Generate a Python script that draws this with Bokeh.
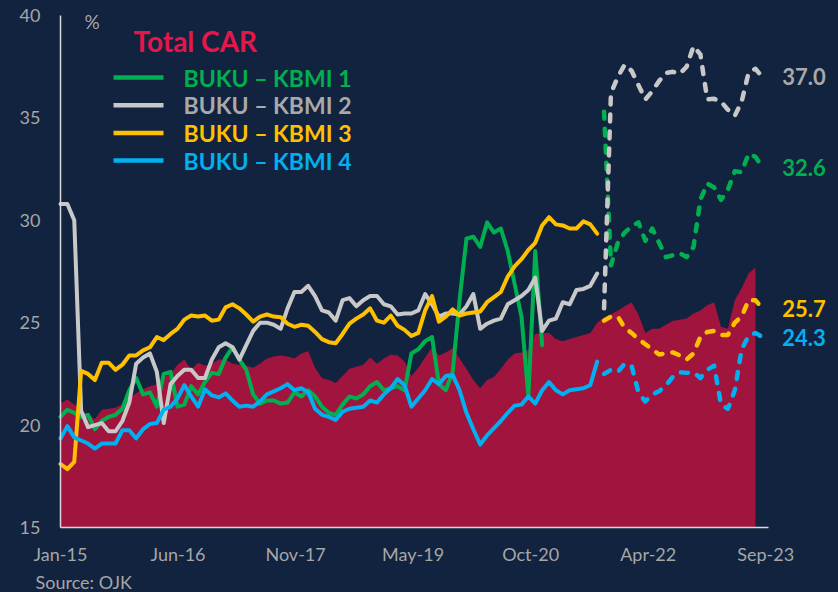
from bokeh.plotting import figure
from bokeh.models import FixedTicker, Label, CustomJSTickFormatter
from bokeh.embed import file_html
from bokeh.resources import INLINE

# ---------------- data ----------------
x_tick_labels = ["Jan-15", "Jun-16", "Nov-17", "May-19", "Oct-20", "Apr-22", "Sep-23"]
y_ticks = [15, 20, 25, 30, 35, 40]

total_car = [21.05, 21.25, 21.0, 20.8, 20.45, 20.3, 20.75, 20.8, 20.85, 21.0,
             21.3, 21.55, 21.75, 21.9, 22.0, 22.35, 22.5, 22.95, 23.2, 22.7,
             23.05, 22.9, 23.0, 23.2, 23.2, 23.0, 22.95, 22.9, 22.8, 23.0,
             23.25, 23.35, 23.4, 23.35, 23.25, 23.5, 23.6, 22.8, 22.3, 22.2,
             22.05, 22.4, 22.75, 22.85, 22.95, 23.3, 23.0, 23.25, 23.45, 23.4,
             23.1, 22.4, 22.8, 23.3, 23.8, 23.4, 23.55, 23.75, 23.25, 22.75,
             22.2, 21.8, 22.2, 22.35, 22.75, 23.2, 23.5, 23.55, 23.65, 24.45,
             24.5, 24.5, 24.2, 24.1, 24.2, 24.3, 24.4, 24.5, 25.0, 25.25,
             25.4, 25.6, 25.8, 26.0, 25.4, 24.5, 24.7, 24.7, 24.9, 25.1,
             25.15, 25.2, 25.45, 25.6, 25.85, 26.0, 24.8, 24.7, 26.1, 26.7,
             27.4, 27.7]

kbmi1_buku = [20.4, 20.75, 20.6, 20.4, 20.5, 19.8, 20.2, 20.4, 20.5, 20.8,
              21.7, 22.3, 21.5, 21.6, 20.9, 22.5, 22.6, 20.9, 21.0, 21.9,
              21.5, 22.1, 22.55, 22.5, 23.3, 23.8, 23.2, 22.7, 21.5, 21.05,
              21.2, 21.2, 21.05, 21.1, 21.6, 21.4, 21.7, 21.4, 20.9, 20.6,
              20.5, 21.0, 21.4, 21.3, 21.5, 21.9, 22.1, 21.7, 21.8, 21.9,
              21.7, 23.5, 23.7, 24.1, 24.3, 22.0, 21.7, 22.6, 26.1, 29.1,
              29.2, 28.7, 29.9, 29.4, 29.6, 28.5, 26.9, 25.3, 21.4, 28.5,
              23.9]
kbmi1_kbmi = [35.3, 27.8, 28.9, 29.4, 29.7, 29.9, 29.0, 29.6, 28.9, 28.2,
              28.3, 28.4, 28.2, 28.7, 31.0, 31.8, 31.6, 31.0, 31.5, 32.4,
              32.35, 33.25, 33.1, 32.6]

kbmi2_buku = [30.8, 30.8, 30.0, 20.7, 19.9, 20.0, 20.1, 19.7, 19.7, 20.2,
              21.1, 23.0, 23.3, 23.5, 22.6, 20.1, 22.0, 22.4, 22.7, 22.7,
              22.3, 22.3, 23.2, 23.8, 24.0, 23.8, 23.2, 23.9, 24.6, 25.0,
              25.0, 24.9, 24.7, 25.7, 26.5, 26.5, 26.8, 26.3, 25.6, 25.5,
              25.1, 26.1, 26.2, 25.8, 26.1, 26.3, 26.3, 25.9, 25.8, 25.4,
              25.45, 25.45, 25.6, 26.4, 25.9, 25.3, 25.45, 25.45, 25.4, 25.8,
              26.4, 24.7, 24.95, 25.1, 25.2, 25.9, 26.1, 26.3, 26.6, 27.2,
              24.6, 25.1, 25.2, 26.0, 25.9, 26.6, 26.65, 26.8, 27.4]
kbmi2_kbmi = [25.7, 36.2, 37.0, 37.6, 37.3, 36.6, 35.9, 36.3, 36.8, 37.2,
              37.25, 37.15, 37.5, 38.5, 38.1, 35.9, 35.93, 35.8, 35.4, 35.1,
              35.8, 37.2, 37.4, 37.0]

kbmi3_buku = [18.1, 17.85, 18.2, 22.65, 22.5, 22.2, 23.05, 23.05, 22.7, 22.95,
              23.4, 23.4, 23.65, 23.8, 24.3, 24.15, 24.45, 24.7, 25.15, 25.35,
              25.3, 25.35, 25.1, 25.15, 25.75, 25.9, 25.7, 25.4, 25.05, 25.3,
              25.4, 25.3, 25.27, 24.95, 24.8, 24.9, 24.85, 24.55, 24.2, 24.05,
              24.0, 24.45, 24.95, 25.2, 25.4, 25.7, 25.1, 25.0, 25.35, 24.85,
              24.65, 24.35, 24.5, 25.6, 26.3, 25.05, 25.3, 25.65, 25.35, 25.45,
              25.5, 25.55, 26.0, 26.25, 26.5, 27.25, 27.75, 28.1, 28.55, 28.9,
              29.75, 30.15, 29.8, 29.75, 29.6, 29.6, 29.95, 29.8, 29.35]
kbmi3_kbmi = [25.1, 25.3, 25.3, 24.75, 24.5, 24.2, 23.95, 23.7, 23.45, 23.5,
              23.55, 23.4, 23.2, 23.5, 24.3, 24.55, 24.6, 24.4, 24.4, 25.0,
              25.3, 26.1, 26.1, 25.7]

kbmi4_buku = [19.35, 19.95, 19.4, 19.25, 19.1, 18.85, 19.1, 19.1, 19.1, 19.75,
              19.75, 19.35, 19.8, 20.05, 20.1, 20.75, 20.9, 21.3, 21.95, 21.4,
              20.9, 21.75, 21.45, 21.35, 21.55, 21.2, 20.9, 20.95, 20.9, 21.15,
              21.5, 21.65, 21.8, 22.0, 21.7, 21.8, 21.6, 20.8, 20.5, 20.4,
              20.25, 20.65, 20.8, 20.85, 20.9, 21.2, 21.1, 21.5, 21.8, 22.25,
              21.95, 20.9, 21.3, 21.7, 22.25, 22.0, 22.4, 22.45, 21.7, 20.6,
              19.8, 19.05, 19.5, 19.85, 20.2, 20.6, 20.95, 21.0, 21.4, 21.05,
              21.7, 22.1, 21.7, 21.5, 21.7, 21.75, 21.8, 21.95, 23.1]
kbmi4_kbmi = [22.5, 22.7, 22.6, 23.0, 22.9, 21.6, 21.15, 21.5, 21.65, 21.95,
              22.35, 22.58, 22.55, 22.58, 22.3, 22.7, 22.9, 21.0, 20.8, 21.7,
              23.7, 24.35, 24.5, 24.3]

series_names = ["BUKU \u2013 KBMI 1", "BUKU \u2013 KBMI 2", "BUKU \u2013 KBMI 3", "BUKU \u2013 KBMI 4"]

# ---------------- styling ----------------
BG = "#11233F"
AREA = "#A0143E"
LINE_COLORS = ["#00B050", "#C8C8C8", "#FFC000", "#00B0F0"]
TEXT_COLORS = ["#00B050", "#A9A9A9", "#FFC000", "#00B0F0"]
AXIS_TXT = "#A6A6A6"
FONT = "Lato"

# geometry: the frame fills the whole canvas; the axes sit inside it
W, H = 838, 592
AX_L, AX_B = 60, 527          # page pixels of the axis lines
X_MAX = 102.9                 # end of the x axis line (data units)
PXX = 708 / X_MAX
PXY = 512 / 25.0


def dx(px):
    return (px - AX_L) / PXX


def dy(py):
    return 15 + (AX_B - py) / PXY


p = figure(width=W, height=H, output_backend="svg", toolbar_location=None,
           title=None, x_range=(dx(0), dx(W)), y_range=(dy(H), dy(0)),
           min_border=0, min_border_left=0, min_border_right=0,
           min_border_top=0, min_border_bottom=0,
           background_fill_color=BG, border_fill_color=BG, outline_line_color=None)

# area
xa = list(range(len(total_car)))
p.varea(x=xa, y1=15, y2=total_car, fill_color=AREA)

solid = [kbmi1_buku, kbmi2_buku, kbmi3_buku, kbmi4_buku]
dashed = [kbmi1_kbmi, kbmi2_kbmi, kbmi3_kbmi, kbmi4_kbmi]
n_total = 103
for s, d, c in zip(solid, dashed, LINE_COLORS):
    p.line(x=list(range(len(s))), y=s, line_color=c, line_width=4,
           line_join="round", line_cap="round")
    start = n_total - len(d)
    p.line(x=list(range(start, n_total)), y=d, line_color=c, line_width=4.5,
           line_dash="7 10", line_join="round", line_cap="round")

# axes (kept on their sides, drawn at fixed positions)
tick_pos = [k * 102.5 / 6 for k in range(7)]
p.xaxis.ticker = FixedTicker(ticks=tick_pos)
p.xaxis.formatter = CustomJSTickFormatter(args=dict(labels=x_tick_labels),
                                          code="return labels[index];")
p.yaxis.ticker = FixedTicker(ticks=y_ticks)
p.xaxis.fixed_location = 15
p.yaxis.fixed_location = 0
p.xaxis.bounds = (0, X_MAX)
p.yaxis.bounds = (15, 40)
for ax in (p.xaxis[0], p.yaxis[0]):
    ax.axis_line_color = "#D9D9D9"
    ax.axis_line_width = 1.5
    ax.major_tick_line_color = None
    ax.minor_tick_line_color = None
    ax.major_tick_out = 0
    ax.major_tick_in = 0
    ax.major_label_text_color = AXIS_TXT
    ax.major_label_text_font = FONT
    ax.major_label_text_font_size = "18px"
p.yaxis.major_label_standoff = 20
p.xaxis.major_label_standoff = 15
p.grid.grid_line_color = None

# texts
p.add_layout(Label(x=dx(84), y=dy(21), text="%", text_baseline="middle",
                   text_color=AXIS_TXT, text_font=FONT, text_font_size="19px"))
p.add_layout(Label(x=dx(133), y=dy(40), text="Total CAR", text_baseline="middle",
                   text_color="#E5164A", text_font=FONT, text_font_size="28px",
                   text_font_style="bold"))
for k, (name, lc, tc) in enumerate(zip(series_names, LINE_COLORS, TEXT_COLORS)):
    yy = dy(77 + 27.7 * k)
    p.segment(x0=dx(113), y0=yy, x1=dx(163), y1=yy, line_color=lc, line_width=4.5)
    p.add_layout(Label(x=dx(183), y=yy, text=name, text_baseline="middle",
                       text_color=tc, text_font=FONT, text_font_size="23px",
                       text_font_style="bold"))

for d, tc in zip(dashed, TEXT_COLORS):
    p.add_layout(Label(x=n_total - 1, y=d[-1], x_offset=20, text=f"{d[-1]:.1f}",
                       text_baseline="middle", text_color=tc, text_font=FONT,
                       text_font_size="22px", text_font_style="bold"))

p.add_layout(Label(x=dx(35), y=dy(581), text="Source: OJK", text_baseline="middle",
                   text_color=AXIS_TXT, text_font=FONT, text_font_size="18px"))

html = file_html(p, INLINE)
html = html.replace("</head>", "<style>html,body{background-color:#11233F;}</style></head>", 1)
open("out.html", "w").write(html)
